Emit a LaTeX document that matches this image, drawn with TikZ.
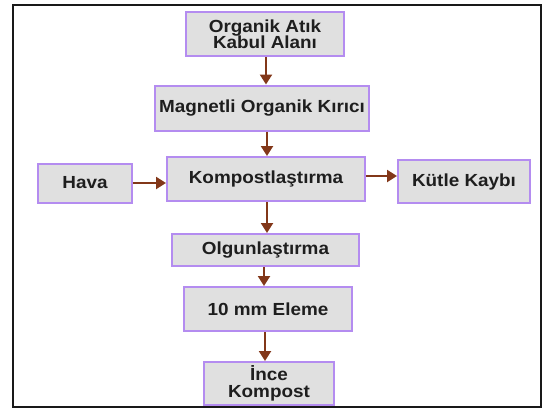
\documentclass[tikz,border=0pt]{standalone}
\usepackage{fontspec}
\setmainfont{Liberation Sans}[FakeStretch=1.08]
\usetikzlibrary{arrows.meta}
\definecolor{boxfill}{RGB}{224,224,224}
\definecolor{boxline}{RGB}{180,140,240}
\definecolor{arrowcol}{RGB}{130,55,25}
\definecolor{textcol}{RGB}{30,30,30}
\tikzset{
  procbox/.style={draw=boxline, line width=2pt, fill=boxfill, inner sep=0pt,
    align=center, text=textcol, font=\fontsize{17.5}{16.5}\selectfont\bfseries},
  flow/.style={draw=arrowcol, line width=2.2pt, -{Triangle[length=10pt,width=12pt]}}
}
\begin{document}
\begin{tikzpicture}[x=1pt,y=-1pt]
\useasboundingbox (0,0) rectangle (547,408);
\draw[line width=2pt, black!90] (12.5,4.5) rectangle (541,406.5);
\node[procbox, minimum width=158pt, minimum height=44pt] (A) at (265,34) {Organik Atık\\Kabul Alanı};
\node[procbox, minimum width=214pt, minimum height=45pt] (B) at (262,108) {Magnetli Organik Kırıcı};
\node[procbox, minimum width=198pt, minimum height=44pt] (C) at (266,179) {Kompostlaştırma};
\node[procbox, minimum width=94pt, minimum height=39pt] (H) at (85,183) {Hava};
\node[procbox, minimum width=132pt, minimum height=43pt] (K) at (464,181.5) {Kütle Kaybı};
\node[procbox, minimum width=187pt, minimum height=32pt] (O) at (265.5,250) {Olgunlaştırma};
\node[procbox, minimum width=168pt, minimum height=44pt] (E) at (268,309) {10 mm Eleme};
\node[procbox, minimum width=130pt, minimum height=43pt] (I) at (269,383.5) {İnce\\Kompost};
\coordinate (a1) at (266,0);
\coordinate (a2) at (267,0);
\coordinate (a3) at (267,0);
\coordinate (a4) at (264,0);
\coordinate (a5) at (265,0);
\draw[flow] (A.south -| a1) -- (B.north -| a1);
\draw[flow] (B.south -| a2) -- (C.north -| a2);
\draw[flow] (C.south -| a3) -- (O.north -| a3);
\draw[flow] (O.south -| a4) -- (E.north -| a4);
\draw[flow] (E.south -| a5) -- (I.north -| a5);
\coordinate (h1) at (0,183);
\coordinate (h2) at (0,176);
\draw[flow] (H.east |- h1) -- (C.west |- h1);
\draw[flow] (C.east |- h2) -- (K.west |- h2);
\end{tikzpicture}
\end{document}
